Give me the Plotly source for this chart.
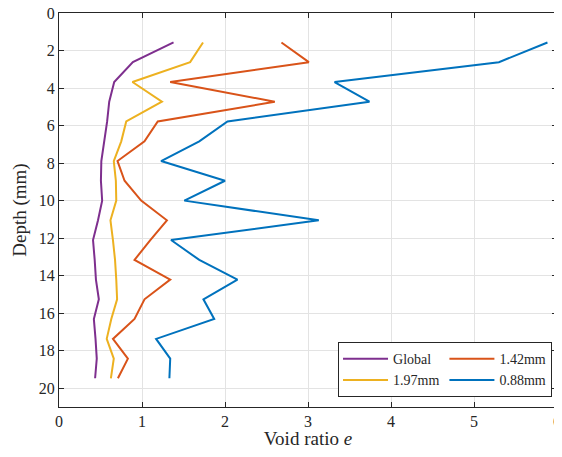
import plotly.graph_objects as go

depth = [1.57, 2.62, 3.68, 4.73, 5.78, 6.84, 7.89, 8.94, 10.0, 11.05,
         12.1, 13.16, 14.21, 15.26, 16.31, 17.37, 18.42, 19.47]

e_global = [1.38, 0.89, 0.665, 0.605, 0.58, 0.545, 0.51, 0.505, 0.52, 0.47,
            0.41, 0.43, 0.445, 0.48, 0.42, 0.44, 0.455, 0.435]
e_197 = [1.735, 1.58, 0.885, 1.24, 0.81, 0.75, 0.66, 0.685, 0.69, 0.62,
         0.65, 0.675, 0.69, 0.70, 0.63, 0.575, 0.66, 0.625]
e_142 = [2.68, 3.01, 1.34, 2.60, 1.19, 1.03, 0.705, 0.79, 0.99, 1.30,
         1.10, 0.91, 1.34, 1.03, 0.91, 0.65, 0.83, 0.71]
e_088 = [5.885, 5.30, 3.32, 3.74, 2.03, 1.69, 1.23, 2.0, 1.51, 3.13,
         1.35, 1.69, 2.15, 1.74, 1.87, 1.17, 1.34, 1.33]

names = ["Global", "1.97mm", "1.42mm", "0.88mm"]
series = [e_global, e_197, e_142, e_088]
colors = ["#7E2F8E", "#EDB120", "#D95319", "#0072BD"]
groups = ["a", "a", "b", "b"]

x_ticks = [0, 1, 2, 3, 4, 5, 6]
y_ticks = [0, 2, 4, 6, 8, 10, 12, 14, 16, 18, 20]

fig = go.Figure()
for n, s, c, g in zip(names, series, colors, groups):
    fig.add_trace(go.Scatter(x=s, y=depth, mode="lines", name=n, legendgroup=g,
                             line=dict(color=c, width=2)))

font = "Liberation Serif"
axis_common = dict(
    showline=True, linecolor="#262626", linewidth=1, mirror="ticks",
    ticks="inside", ticklen=5, tickcolor="#262626", automargin=False,
    ticklabeloverflow="allow",
    showgrid=True, gridcolor="#e3e3e3", gridwidth=1, zeroline=False,
    tickfont=dict(family=font, size=16, color="#262626"),
)
fig.update_xaxes(range=[0, 6], tickvals=x_ticks,
                 title=dict(text="Void ratio <i>e</i>", standoff=5,
                            font=dict(family=font, size=19, color="#262626")),
                 **axis_common)
fig.update_yaxes(range=[21, 0], tickvals=y_ticks,
                 title=dict(text="Depth (mm)", standoff=7,
                            font=dict(family=font, size=19, color="#262626")),
                 **axis_common)

# page body has an 8px margin, so the figure is sized to fit the window
fig.update_layout(
    width=554, height=441,
    margin=dict(l=51, r=5, t=5, b=42),
    plot_bgcolor="white", paper_bgcolor="white",
    legend=dict(orientation="h", x=0.99, xanchor="right", y=0.025, yanchor="bottom",
                traceorder="grouped", tracegroupgap=38,
                bgcolor="white", bordercolor="#262626", borderwidth=1,
                font=dict(family=font, size=14, color="#262626"),
                itemwidth=45),
)

fig.write_html("out.html")
